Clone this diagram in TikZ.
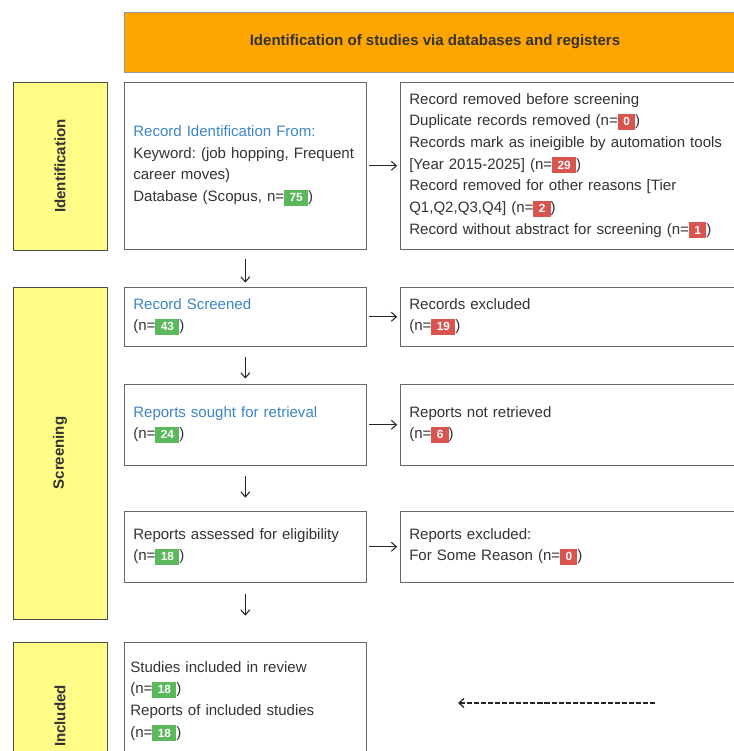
\documentclass[tikz,border=0pt]{standalone}
\usepackage{fontspec}
\usepackage{xcolor}
\setmainfont{Liberation Sans}
\usetikzlibrary{arrows.meta}
\frenchspacing

\definecolor{hdrorange}{HTML}{FFA500}
\definecolor{phaseyellow}{HTML}{FFFC87}
\definecolor{inktext}{HTML}{333333}
\definecolor{headblue}{HTML}{3D85C6}
\definecolor{cntgreen}{HTML}{5CB85C}
\definecolor{cntred}{HTML}{D9534F}

\newcommand{\cnt}[2]{{\setlength{\fboxsep}{0pt}\colorbox{#1}{\rule[-3pt]{0pt}{11.4pt}\hspace{3.8pt}\textcolor{white}{\fontsize{8.4}{9}\selectfont\bfseries #2}\hspace{3.8pt}}}}
\newcommand{\gcnt}[1]{\cnt{cntgreen}{#1}}
\newcommand{\rcnt}[1]{\cnt{cntred}{#1}}

\tikzset{
  phase/.style={draw=black!70, fill=phaseyellow, rotate=90, text=inktext, font=\fontsize{10.7}{13}\selectfont\bfseries},
  stagebox/.style={draw=black!60, fill=white, anchor=north west, align=left, text=inktext,
    inner xsep=0.225cm, inner ysep=0pt, font=\fontsize{10.7}{15.4}\selectfont},
  arr/.style={-{Straight Barb[length=3.6pt,width=6.4pt]}, draw=black!85, line width=0.75pt},
}

\begin{document}
\begin{tikzpicture}[x=0.025cm, y=-0.025cm]
\useasboundingbox (0,0) rectangle (734,751);
\clip (0,0) rectangle (734,751);

\node[draw=black!40, fill=hdrorange, minimum width=15.55cm, minimum height=1.5cm, text=inktext, font=\fontsize{10.7}{13}\selectfont\bfseries] (header) at (435,42) {Identification of studies via databases and registers};

\node[phase, minimum width=4.2cm, minimum height=2.35cm] (ident) at (60,166) {Identification};
\node[phase, minimum width=8.3cm, minimum height=2.35cm] (screen) at (60,453) {Screening};
\node[phase, minimum width=3.7cm, minimum height=2.35cm] (incl) at (60,716) {Included};

\node[stagebox, text width=5.6cm, minimum height=4.175cm] (source) at (124,82) {{\color{headblue}Record Identification From:}\\Keyword: (job hopping, Frequent\\career moves)\\Database (Scopus, n=\gcnt{75})};
\node[stagebox, text width=9.05cm, minimum height=4.175cm] (removed) at (400,82) {Record removed before screening\\Duplicate records removed (n=\rcnt{0})\\Records mark as ineigible by automation tools\\{[}Year 2015-2025] (n=\rcnt{29})\\Record removed for other reasons [Tier\\Q1,Q2,Q3,Q4] (n=\rcnt{2})\\Record without abstract for screening (n=\rcnt{1})};

\node[stagebox, text width=5.6cm, minimum height=1.475cm] (screened) at (124,287) {{\color{headblue}Record Screened}\\(n=\gcnt{43})};
\node[stagebox, text width=9.05cm, minimum height=1.475cm] (excluded) at (400,287) {Records excluded\\(n=\rcnt{19})};

\node[stagebox, text width=5.6cm, minimum height=2.025cm] (sought) at (124,384) {{\color{headblue}Reports sought for retrieval}\\(n=\gcnt{24})};
\node[stagebox, text width=9.05cm, minimum height=2.025cm] (notret) at (400,384) {Reports not retrieved\\(n=\rcnt{6})};

\node[stagebox, text width=5.6cm, minimum height=1.775cm] (assessed) at (124,511) {Reports assessed for eligibility\\(n=\gcnt{18})};
\node[stagebox, text width=9.05cm, minimum height=1.775cm] (repexcl) at (400,511) {Reports excluded:\\For Some Reason (n=\rcnt{0})};

\node[stagebox, inner xsep=0.15cm, text width=5.75cm, minimum height=2.95cm] (studies) at (124,642) {Studies included in review\\(n=\gcnt{18})\\Reports of included studies\\(n=\gcnt{18})};

\draw[arr, shorten <=2pt, shorten >=2pt] (source.east) -- (removed.west);
\draw[arr, shorten <=2pt, shorten >=2pt] (screened.east) -- (excluded.west);
\draw[arr, shorten <=2pt, shorten >=2pt] (sought.east) -- (notret.west);
\draw[arr, shorten <=2pt, shorten >=2pt] (assessed.east) -- (repexcl.west);

\draw[arr] (source.south) ++(0,9) -- ++(0,24);
\draw[arr] (screened.south) ++(0,10) -- ++(0,22);
\draw[arr] (sought.south) ++(0,10) -- ++(0,22);
\draw[arr] (assessed.south) ++(0,11) -- ++(0,22);

\coordinate (dashR) at (655,703);
\coordinate (dashL) at (458,703);
\draw[arr, line width=0.9pt, dash pattern=on 3.6pt off 1.4pt] (dashR) -- (dashL);
\end{tikzpicture}
\end{document}
